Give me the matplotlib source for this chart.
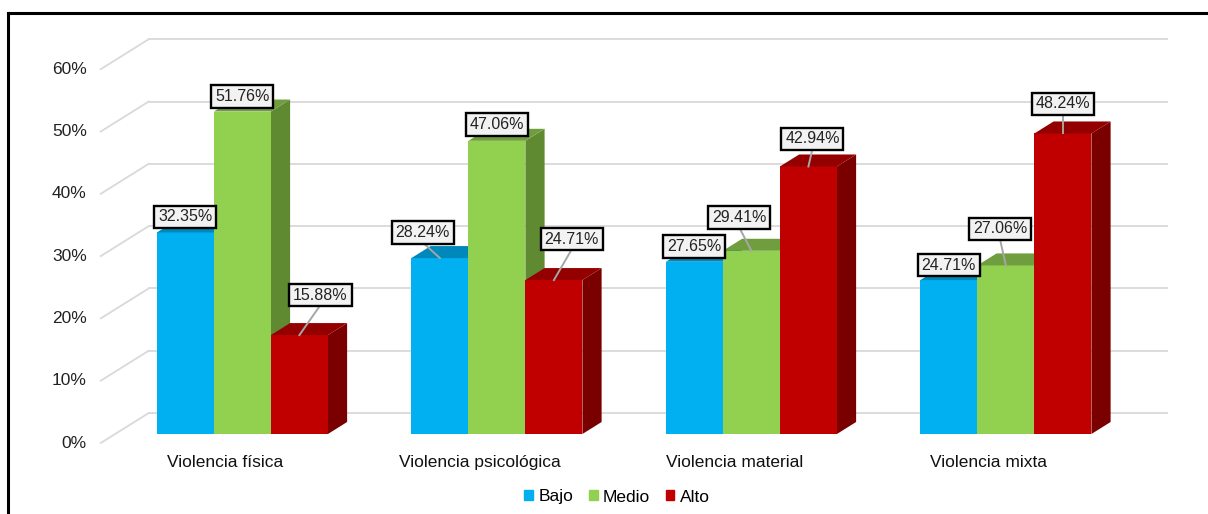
import matplotlib.pyplot as plt
from matplotlib.patches import Polygon, Patch
import numpy as np

plt.rcParams['font.family'] = ['Liberation Sans', 'DejaVu Sans']

categorias = ['Violencia física', 'Violencia psicológica', 'Violencia material', 'Violencia mixta']
series = ['Bajo', 'Medio', 'Alto']
bajo = [32.35, 28.24, 27.65, 24.71]
medio = [51.76, 47.06, 29.41, 27.06]
alto = [15.88, 24.71, 42.94, 48.24]
ticks = [0, 10, 20, 30, 40, 50, 60]

valores = [bajo, medio, alto]
front = ['#00B0F0', '#92D050', '#C00000']
top_c = ['#0088BA', '#709E3E', '#940000']
side_c = ['#007AA6', '#5F8A32', '#7A0000']

# pixel scale of the plot (px per category, px per percent)
PX_CAT, PX_PCT = 254.5, 6.23
# oblique "3D" offsets for full depth (category units, percent units)
DX, DY = 48 / PX_CAT, 30 / PX_PCT
D0, D1 = 0.3, 0.7      # bar depth range
W = 0.224              # bar width

fig = plt.figure(figsize=(12.08, 5.14), dpi=100)
ax = fig.add_axes([0, 0, 1, 1])
ax.set_xlim((0 - 228) / PX_CAT, (1208 - 228) / PX_CAT)
ax.set_ylim((443 - 514) / PX_PCT, 443 / PX_PCT)
ax.axis('off')

# walls / gridlines
x_left, x_right = -0.5, 3.5
for t in ticks:
    ax.plot([x_left, x_left + DX], [t, t + DY], color='#D9D9D9', lw=1.3, zorder=1)
    ax.plot([x_left + DX, x_right + DX], [t + DY, t + DY], color='#D9D9D9', lw=1.3, zorder=1)
    ax.text(x_left - 0.055, t, f'{t}%', ha='right', va='center', fontsize=12.5, color='#222222')

for i, cat in enumerate(categorias):
    ax.text(i - 0.01, -3.1, cat, ha='center', va='center', fontsize=12.5, color='#111111')

x = np.arange(len(categorias))
z = 3
for j, vals in enumerate(valores):
    x0 = x + (j - 1.5) * W + D0 * DX
    ax.bar(x0, vals, width=W, bottom=D0 * DY, align='edge', color=front[j],
           edgecolor='none', zorder=z + j * 3)
    dd = (D1 - D0)
    for k, v in enumerate(vals):
        xa, xb = x0[k], x0[k] + W
        yb, yt = D0 * DY, v + D0 * DY
        top = [(xa, yt), (xb, yt), (xb + dd * DX, yt + dd * DY), (xa + dd * DX, yt + dd * DY)]
        side = [(xb, yb), (xb + dd * DX, yb + dd * DY), (xb + dd * DX, yt + dd * DY), (xb, yt)]
        ax.add_patch(Polygon(side, closed=True, color=side_c[j], lw=0, zorder=z + j * 3 - 1))
        ax.add_patch(Polygon(top, closed=True, color=top_c[j], lw=0, zorder=z + j * 3 + 1))

# data label offsets (px right, px up) from the front-top centre of each bar
offsets = {
    (0, 0): (0, 15.5), (0, 1): (0, 15), (0, 2): (21, 40),
    (1, 0): (-17, 25.5), (1, 1): (0, 16), (1, 2): (18, 41),
    (2, 0): (0, 15.5), (2, 1): (-12, 33), (2, 2): (4, 27.5),
    (3, 0): (0, 15), (3, 1): (-6, 36.5), (3, 2): (0, 29.5),
}
leaders = {(0, 2), (1, 0), (1, 2), (2, 1), (2, 2), (3, 1), (3, 2)}
for j, vals in enumerate(valores):
    for k, v in enumerate(vals):
        cx = k + (j - 1) * W + D0 * DX
        cy = v + D0 * DY
        ox, oy = offsets[(k, j)]
        tx, ty = cx + ox / PX_CAT, cy + oy / PX_PCT
        if (k, j) in leaders:
            ax.plot([cx, tx], [cy, ty - 10 / PX_PCT], color='#A6A6A6', lw=1.4, zorder=30)
        ax.text(tx, ty, f'{v:.2f}%', ha='center', va='center', fontsize=11.5, color='#222222',
                zorder=31,
                bbox=dict(boxstyle='square,pad=0.24', fc='#F2F2F2', ec='black', lw=1.7))

handles = [Patch(color=c, label=s) for c, s in zip(front, series)]
fig.legend(handles=handles, loc='center', bbox_to_anchor=(617 / 1208, 1 - 497 / 514), ncol=3,
           frameon=False, fontsize=12.5, handlelength=0.5, handleheight=0.5,
           handletextpad=0.3, columnspacing=0.9)

# outer frame (top and left)
fig.add_artist(plt.Line2D([8 / 1208, 8 / 1208], [0, 1 - 13 / 514], color='black', lw=2.2))
fig.add_artist(plt.Line2D([8 / 1208, 1], [1 - 13 / 514, 1 - 13 / 514], color='black', lw=2.2))

fig.savefig('out.png', dpi=100)
